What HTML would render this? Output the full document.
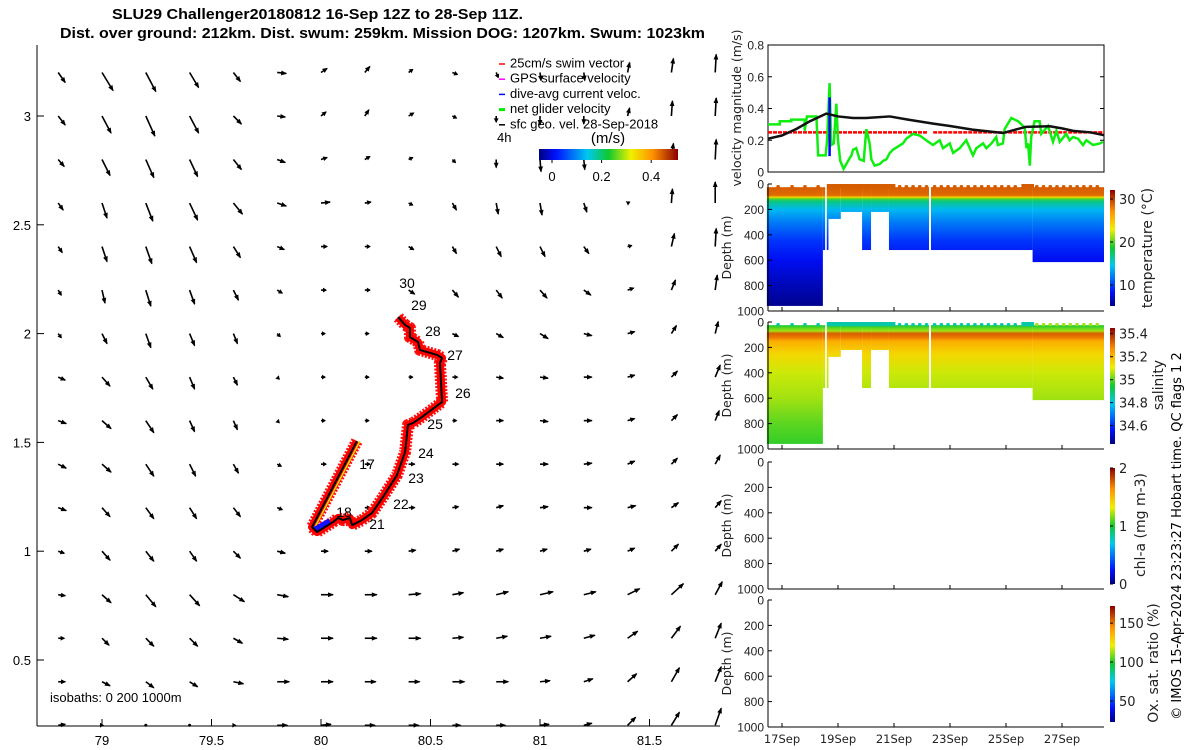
<!DOCTYPE html>
<html><head><meta charset="utf-8"><style>
html,body{margin:0;padding:0;background:#fff;}
svg{display:block;}
.m{font-family:"Liberation Sans Narrow","Liberation Sans",sans-serif;}
.d{font-family:"DejaVu Sans","Liberation Sans",sans-serif;}
</style></head><body>
<svg id="fig" width="1200" height="750" viewBox="0 0 1200 750" xmlns="http://www.w3.org/2000/svg">
<defs>
<linearGradient id="cbarGrad" x1="0" y1="1" x2="0" y2="0">
<stop offset="0" stop-color="#000080"/><stop offset="0.12" stop-color="#0010ff"/><stop offset="0.35" stop-color="#00c8f0"/><stop offset="0.5" stop-color="#10c830"/><stop offset="0.66" stop-color="#f0f000"/><stop offset="0.82" stop-color="#ff9000"/><stop offset="1" stop-color="#8a0000"/>
</linearGradient>
<linearGradient id="cbarGradH" x1="0" y1="0" x2="1" y2="0">
<stop offset="0" stop-color="#000080"/><stop offset="0.12" stop-color="#0010ff"/><stop offset="0.35" stop-color="#00c8f0"/><stop offset="0.5" stop-color="#10c830"/><stop offset="0.66" stop-color="#f0f000"/><stop offset="0.82" stop-color="#ff9000"/><stop offset="1" stop-color="#8a0000"/>
</linearGradient>
</defs>
<g class="m" font-weight="bold" font-size="14.5">
<text x="112" y="19" textLength="411" lengthAdjust="spacingAndGlyphs">SLU29 Challenger20180812 16-Sep 12Z to 28-Sep 11Z.</text>
<text x="60" y="38" textLength="645" lengthAdjust="spacingAndGlyphs">Dist. over ground: 212km. Dist. swum: 259km. Mission DOG: 1207km. Swum: 1023km</text>
</g>
<g id="map"></g>
<g id="vel"></g>
<g id="depth"></g>
<text class="d" font-size="13" transform="translate(1181,536) rotate(-90)" text-anchor="middle">© IMOS 15-Apr-2024 23:23:27 Hobart time. QC flags 1  2</text>
</svg>
<script>
const NS="http://www.w3.org/2000/svg";
function mk(tag,attrs,parent,txt){const e=document.createElementNS(NS,tag);for(const k in attrs)e.setAttribute(k,attrs[k]);if(txt!==undefined)e.textContent=txt;parent.appendChild(e);return e;}

// ---------- MAP DATA ----------
const gridLons=[78.8,79.0,79.2,79.4,79.6,79.8,80.0,80.2,80.4,80.6,80.8,81.0,81.2,81.4,81.6,81.8];
const gridLats=[3.2,3.0,2.8,2.6,2.4,2.2,2.0,1.8,1.6,1.4,1.2,1.0,0.8,0.6,0.4,0.2];
const uRows=[
[7,11,10,9,7,9,6,5,4,5,2,1,1,2,2,1],
[7,9,9,9,8,8,5,4,5,4,0,0,0,2,1,1],
[6,8,8,8,8,8,6,5,4,3,0,1,1,0,2,1],
[5,5,7,8,9,9,9,6,4,4,2,2,3,2,1,0],
[4,5,6,7,7,7,6,5,5,4,5,5,5,4,3,1],
[3,3,5,5,5,5,5,5,6,6,6,7,7,6,4,2],
[3,5,5,5,4,3,4,4,4,6,7,8,8,7,5,3],
[7,8,7,5,4,2,4,4,4,5,7,8,8,7,6,5],
[8,9,8,5,4,2,4,4,4,4,7,8,8,7,6,4],
[8,9,8,6,5,4,5,5,6,6,7,8,8,7,6,5],
[8,8,8,7,7,5,5,5,6,6,7,8,8,8,7,6],
[6,8,8,7,7,8,7,7,7,7,7,7,7,7,7,6],
[7,9,10,10,11,11,12,12,12,11,12,13,12,12,12,7],
[6,7,8,8,9,11,12,12,12,11,11,11,11,10,9,6],
[7,8,8,8,10,12,12,11,11,12,12,10,9,9,8,6],
[7,1,0,0,2,10,10,10,10,8,9,9,8,8,8,6]];
const vRows=[
[-10,-18,-19,-15,-9,-1,4,6,3,-2,-5,-8,-8,10,14,18],
[-9,-17,-20,-17,-8,-1,4,6,3,-2,-6,-9,-8,8,15,18],
[-7,-16,-18,-17,-10,-3,2,3,2,-3,-8,-12,-10,5,16,20],
[-7,-15,-18,-17,-11,-3,1,1,-2,-7,-11,-12,-9,1,14,21],
[-6,-15,-17,-16,-11,-3,0,0,-3,-7,-10,-10,-7,1,13,18],
[-5,-13,-16,-14,-10,-3,0,0,-4,-7,-8,-8,-5,2,10,15],
[-4,-10,-14,-12,-10,-3,0,0,-1,-3,-4,-5,-2,2,8,12],
[-3,-9,-12,-12,-8,-2,0,0,0,0,-1,-1,0,2,6,12],
[-3,-8,-12,-11,-9,-2,0,0,0,0,0,-1,0,2,6,10],
[-4,-8,-12,-12,-9,-2,0,0,0,0,0,0,1,3,6,9],
[-3,-9,-11,-11,-9,-2,0,0,0,1,2,1,0,2,5,7],
[-2,-9,-10,-10,-7,-2,0,0,1,2,2,2,2,3,7,7],
[-1,-8,-12,-11,-7,-2,0,0,1,2,3,3,3,6,11,13],
[0,-7,-8,-8,-5,-1,0,0,0,1,2,2,3,7,12,15],
[0,-4,-6,-5,-2,0,0,0,0,0,0,1,3,8,14,15],
[1,0,0,0,0,0,1,0,0,0,0,1,2,8,13,17]];
const trackLon=[80.164,79.959,79.982,80.055,80.078,80.100,80.132,80.142,80.187,80.233,80.283,80.347,80.384,80.397,80.420,80.461,80.553,80.543,80.553,80.530,80.452,80.443,80.406,80.406,80.384,80.352];
const trackLat=[1.506,1.111,1.088,1.134,1.153,1.143,1.153,1.120,1.143,1.176,1.249,1.350,1.456,1.580,1.589,1.617,1.686,1.865,1.888,1.902,1.925,1.961,1.984,2.026,2.040,2.076];
const dayLabels=["30","29","28","27","26","25","24","23","22","21","18","17"];
const dayLon=[80.393,80.447,80.511,80.612,80.648,80.521,80.479,80.434,80.365,80.256,80.105,80.210];
const dayLat=[2.233,2.131,2.012,1.902,1.727,1.585,1.451,1.336,1.217,1.125,1.180,1.401];
const lonTicks=[79,79.5,80,80.5,81,81.5];
const latTicks=[3,2.5,2,1.5,1,0.5];

const mapG=document.getElementById('map');
const mx=lon=>321+(lon-80)*219;
const my=lat=>116-(lat-3)*217.6;
let ax=mk('line',{x1:37,y1:45,x2:37,y2:726,stroke:'#000','stroke-width':1},mapG);

ax=mk('line',{x1:37,y1:726,x2:720,y2:726,stroke:'#000','stroke-width':1},mapG);

lonTicks.forEach(v=>{const x=mx(v);mk('line',{x1:x,y1:726,x2:x,y2:719,stroke:'#000'},mapG);
 const t=mk('text',{x:x,y:745,'text-anchor':'middle','font-size':13,class:'m'},mapG,String(v));
 });
latTicks.forEach(v=>{const y=my(v);mk('line',{x1:37,y1:y,x2:44,y2:y,stroke:'#000'},mapG);
 const t=mk('text',{x:31,y:y+5,'text-anchor':'end','font-size':13,class:'m'},mapG,String(v));
 });
const arrG=mk('g',{},mapG);

gridLats.forEach((lat,i)=>gridLons.forEach((lon,j)=>{
 const x0=mx(lon),y0=my(lat),dx=uRows[i][j],dy=-vRows[i][j];
 const L=Math.hypot(dx,dy);const g=mk('g',{},arrG);
 
 if(L<0.5){mk('circle',{cx:x0,cy:y0,r:1.5,fill:'#000'},g);return;}
 const x1=x0+dx,y1=y0+dy,ux=dx/L,uy=dy/L,h=Math.min(5,Math.max(3,L*0.6));
 mk('line',{x1:x0,y1:y0,x2:x1,y2:y1,stroke:'#000','stroke-width':1.6},g);
 mk('polygon',{points:`${x1+ux},${y1+uy} ${x1-ux*h-uy*2.4},${y1-uy*h+ux*2.4} ${x1-ux*h+uy*2.4},${y1-uy*h-ux*2.4}`,fill:'#000'},g);
}));
const pts=trackLon.map((lo,i)=>mx(lo)+','+my(trackLat[i])).join(' ');
let tr=mk('polyline',{points:pts,fill:'none',stroke:'#ff1010','stroke-width':12,'stroke-linejoin':'round','stroke-dasharray':'2,1.5'},mapG);

tr=mk('polyline',{points:pts,fill:'none',stroke:'#ff0000','stroke-width':8,'stroke-linejoin':'round'},mapG);

tr=mk('polyline',{points:trackLon.slice(0,2).map((lo,i)=>(mx(lo)+3)+','+my(trackLat[i])).join(' '),fill:'none',stroke:'#f0e000','stroke-width':1.5},mapG);

tr=mk('polyline',{points:`${mx(79.97)},${my(1.10)} ${mx(80.04)},${my(1.14)}`,stroke:'#1010ff','stroke-width':5,fill:'none'},mapG);

tr=mk('polyline',{points:pts,fill:'none',stroke:'#000','stroke-width':2,'stroke-linejoin':'round'},mapG);

dayLabels.forEach((s,i)=>{const t=mk('text',{x:mx(dayLon[i]),y:my(dayLat[i])+5,'text-anchor':'middle','font-size':14,class:'m'},mapG,s);
 });
const legItems=["25cm/s swim vector","GPS surface velocity","dive-avg current veloc.","net glider velocity","sfc geo. vel. 28-Sep-2018"];
const legColors=["#ff0000","#ff00ff","#0000ff","#00ee00","#000000"];
legItems.forEach((s,i)=>{const y=63+i*15.2;const g=mk('g',{},mapG);
 
 mk('line',{x1:499,y1:y+1,x2:505,y2:y+1,stroke:legColors[i],'stroke-width':i==3?3:1.5},g);
 mk('text',{x:510,y:y+4.5,'font-size':13,class:'m'},g,s);});
let t=mk('text',{x:497,y:142,'font-size':13,class:'m'},mapG,'4h');
t=mk('text',{x:608,y:143,'font-size':15,'text-anchor':'middle',class:'m'},mapG,'(m/s)');
let cb=mk('rect',{x:539,y:149,width:139,height:11,fill:'url(#cbarGradH)'},mapG);
const cbTicks=[0,0.2,0.4];
cbTicks.forEach(v=>{const x=552+v*248;mk('line',{x1:x,y1:160,x2:x,y2:163,stroke:'#000'},mapG);
 const tt=mk('text',{x:x,y:181,'text-anchor':'middle','font-size':13,class:'m'},mapG,String(v));
 });
t=mk('text',{x:50,y:702,'font-size':13,class:'m'},mapG,'isobaths: 0   200  1000m');

// ---------- VELOCITY DATA ----------
const netT=[16.5,16.92,16.92,17.33,17.33,17.81,17.81,17.89,18.23,18.29,18.56,18.61,18.70,18.76,18.85,18.94,19.0,19.08,19.20,19.36,19.48,19.54,19.65,19.77,19.92,20.01,20.13,20.19,20.31,20.49,20.61,20.73,20.85,20.96,21.14,21.32,21.44,21.68,21.92,22.15,22.39,22.63,22.75,22.99,23.11,23.35,23.58,23.82,23.94,24.18,24.30,24.48,24.65,24.71,24.89,24.95,25.19,25.43,25.67,25.73,25.79,25.85,25.90,26.02,26.20,26.26,26.50,26.68,26.80,26.92,27.15,27.27,27.39,27.57,27.75,27.87,28.11,28.35,28.46];
const netV=[0.30,0.30,0.32,0.32,0.33,0.33,0.26,0.35,0.35,0.105,0.105,0.20,0.56,0.17,0.18,0.43,0.20,0.07,0.02,0.07,0.105,0.14,0.15,0.08,0.07,0.27,0.18,0.08,0.04,0.05,0.07,0.08,0.12,0.14,0.16,0.18,0.21,0.24,0.23,0.20,0.17,0.20,0.15,0.18,0.12,0.15,0.20,0.105,0.15,0.18,0.15,0.18,0.22,0.17,0.18,0.27,0.34,0.32,0.28,0.15,0.18,0.04,0.22,0.32,0.32,0.24,0.29,0.19,0.26,0.19,0.24,0.20,0.22,0.21,0.17,0.20,0.17,0.18,0.19];
const geoT=[16.5,17.0,17.5,18.0,18.58,19.0,19.54,20.0,20.85,21.5,22.4,23.0,23.8,24.9,25.3,25.7,26.56,27.0,27.4,28.0,28.5];
const geoV=[0.21,0.23,0.27,0.32,0.368,0.35,0.34,0.34,0.35,0.33,0.305,0.29,0.267,0.246,0.265,0.284,0.288,0.275,0.259,0.25,0.232];
const swimV=0.25;
const diveT=18.7, diveLo=0.10, diveHi=0.47;
const velTicks=[0,0.2,0.4,0.6,0.8];

const velG=document.getElementById('vel');
const tx=tm=>768+(tm-16.5)*28;
const vy=v=>172-v/0.8*127;
let r=mk('rect',{x:768,y:45,width:336,height:127,fill:'none',stroke:'#000'},velG);
velTicks.forEach(v=>{const y=vy(v);mk('line',{x1:768,y1:y,x2:772,y2:y,stroke:'#000'},velG);mk('line',{x1:1104,y1:y,x2:1100,y2:y,stroke:'#000'},velG);
 const tt=mk('text',{x:764,y:y+4.5,'text-anchor':'end','font-size':12,class:'m',fill:'#222'},velG,String(v));
 });
t=mk('text',{transform:'translate(741,108) rotate(-90)','text-anchor':'middle','font-size':12.5,class:'d',fill:'#222'},velG,'velocity magnitude (m/s)');
let l=mk('line',{x1:tx(16.5),y1:vy(swimV),x2:tx(22.2),y2:vy(swimV),stroke:'#ff0000','stroke-width':2.5,'stroke-dasharray':'4,1'},velG);
l=mk('line',{x1:tx(22.4),y1:vy(swimV),x2:tx(28.5),y2:vy(swimV),stroke:'#ff0000','stroke-width':2.5,'stroke-dasharray':'4,1'},velG);
l=mk('polyline',{points:netT.map((tm,i)=>tx(tm)+','+vy(netV[i])).join(' '),fill:'none',stroke:'#10ee10','stroke-width':2.5},velG);
l=mk('line',{x1:tx(diveT),y1:vy(diveLo),x2:tx(diveT),y2:vy(diveHi),stroke:'#0000ff','stroke-width':2.5},velG);
l=mk('polyline',{points:geoT.map((tm,i)=>tx(tm)+','+vy(geoV[i])).join(' '),fill:'none',stroke:'#111','stroke-width':2.5,'stroke-linejoin':'round'},velG);

// ---------- DEPTH PANEL DATA ----------
const segStart=[16.46,18.46,18.6,18.66,19.1,19.86,20.18,20.82,22.32,25.95];
const segEnd=[18.46,18.54,18.66,19.1,19.86,20.18,20.82,22.25,25.95,28.5];
const segDepth=[960,520,520,275,220,520,220,520,520,615];
const contStart=[18.6,25.55];
const contEnd=[21.05,26.0];
const barTimes=[16.86,17.36,17.82,18.29,21.2,21.44,21.68,21.92,22.16,22.45,22.69,22.93,23.17,23.41,23.65,23.89,24.13,24.37,24.61,24.85,25.09,25.33,26.1,26.34,26.58,26.82,27.06,27.3,27.54,27.78,28.02,28.26];
const tempDepths=[0,25,90,105,115,135,200,300,450,600,800,960];
const tempVals=[29.5,29,28.5,24,20,17,14,12,9.5,8,6.5,5.5];
const salDepths=[0,25,70,90,120,150,250,400,600,800,960];
const salVals=[34.85,34.95,35.05,35.33,35.3,35.22,35.15,35.08,35.05,35.0,34.97];
const dateTicks=[17,19,21,23,25,27];
const dateLabels=["17Sep","19Sep","21Sep","23Sep","25Sep","27Sep"];
const depthTicks=[0,200,400,600,800,1000];

const stops=[[0,[0,0,128]],[0.12,[0,16,255]],[0.35,[0,200,240]],[0.5,[16,200,48]],[0.66,[240,240,0]],[0.82,[255,144,0]],[1,[138,0,0]]];
function cmap(f){f=Math.max(0,Math.min(1,f));for(let i=1;i<stops.length;i++){if(f<=stops[i][0]){const a=stops[i-1],b=stops[i],k=(f-a[0])/(b[0]-a[0]);return 'rgb('+a[1].map((c,j)=>Math.round(c+(b[1][j]-c)*k)).join(',')+')';}}return 'rgb(138,0,0)';}

const panels=[
 {name:'temperature',top:184,label:'temperature (°C)',lx:1152,ly:248,vmin:5.1,vmax:32.1,cbTicks:[10,20,30],cbTickLabels:['10','20','30'],data:[tempDepths,tempVals]},
 {name:'salinity',top:322,label:'salinity',lx:1163,ly:385,vmin:34.44,vmax:35.45,cbTicks:[34.6,34.8,35,35.2,35.4],cbTickLabels:['34.6','34.8','35','35.2','35.4'],data:[salDepths,salVals]},
 {name:'chl-a',top:462,label:'chl-a (mg m-3)',lx:1145,ly:525,vmin:0,vmax:2,cbTicks:[0,1,2],cbTickLabels:['0','1','2'],data:null},
 {name:'oxygen',top:600,label:'Ox. sat. ratio (%)',lx:1158,ly:663,vmin:23,vmax:172,cbTicks:[50,100,150],cbTickLabels:['50','100','150'],data:null}];
const depthG=document.getElementById('depth');
const defs=document.querySelector('defs');
panels.forEach((p,pi)=>{
 const g=mk('g',{},depthG);
 const dy=d=>p.top+d*0.127;
 if(p.data){
  const gid='grad'+pi;const lg=mk('linearGradient',{id:gid,gradientUnits:'userSpaceOnUse',x1:0,y1:dy(0),x2:0,y2:dy(1000)},defs);
  p.data[0].forEach((d,i)=>mk('stop',{offset:d/1000,'stop-color':cmap((p.data[1][i]-p.vmin)/(p.vmax-p.vmin))},lg));
  segStart.forEach((s,i)=>{const rr=mk('rect',{x:tx(s),y:dy(25),width:tx(segEnd[i])-tx(s),height:dy(segDepth[i])-dy(25),fill:`url(#${gid})`},g);
   });
  const surf=cmap((p.data[1][1]+(pi==1?-0.1:0)-p.vmin)/(p.vmax-p.vmin));
  contStart.forEach((s,i)=>{const rr=mk('rect',{x:tx(s),y:dy(0),width:tx(contEnd[i])-tx(s),height:dy(25)-dy(0)+1,fill:surf},g);
   });
  barTimes.forEach(bt=>{const c=(pi==1&&bt>26)?cmap((35.05-p.vmin)/(p.vmax-p.vmin)):surf;
   const rr=mk('rect',{x:tx(bt)-1.8,y:dy(0)+1,width:3.6,height:dy(25)-dy(0),fill:c,rx:1.5},g);
   });
 }
 mk('line',{x1:768,y1:p.top,x2:768,y2:dy(1000),stroke:'#000'},g);
 mk('line',{x1:768,y1:dy(1000),x2:1104,y2:dy(1000),stroke:'#000'},g);
 depthTicks.forEach(d=>{mk('line',{x1:768,y1:dy(d),x2:772,y2:dy(d),stroke:'#000'},g);
  const tt=mk('text',{x:764,y:dy(d)+4.5,'text-anchor':'end','font-size':12,class:'m',fill:'#222'},g,String(d));
  });
 dateTicks.forEach(dd=>mk('line',{x1:tx(dd),y1:dy(1000),x2:tx(dd),y2:dy(1000)-4,stroke:'#000'},g));
 const yt=mk('text',{transform:`translate(731,${dy(500)}) rotate(-90)`,'text-anchor':'middle','font-size':12.5,class:'d',fill:'#222'},g,'Depth (m)');
 
 const cbTop=p.top+6,cbBot=dy(1000)-5;
 const cbr=mk('rect',{x:1110,y:cbTop,width:5,height:cbBot-cbTop,fill:'url(#cbarGrad)'},g);
 
 p.cbTicks.forEach((v,i)=>{const y=cbBot-(v-p.vmin)/(p.vmax-p.vmin)*(cbBot-cbTop);
  mk('line',{x1:1110,y1:y,x2:1113,y2:y,stroke:'#000'},g);
  const tt=mk('text',{x:1119,y:y+5,'font-size':13,class:'d',fill:'#222'},g,p.cbTickLabels[i]);
  });
 const lt=mk('text',{transform:`translate(${p.lx},${p.ly}) rotate(-90)`,'text-anchor':'middle','font-size':14,class:'d',fill:'#222'},g,p.label);
 
});
dateTicks.forEach((dd,i)=>{const tt=mk('text',{x:tx(dd),y:743,'text-anchor':'middle','font-size':11.5,class:'d',fill:'#222'},depthG,dateLabels[i]);
 });
</script>
</body></html>
